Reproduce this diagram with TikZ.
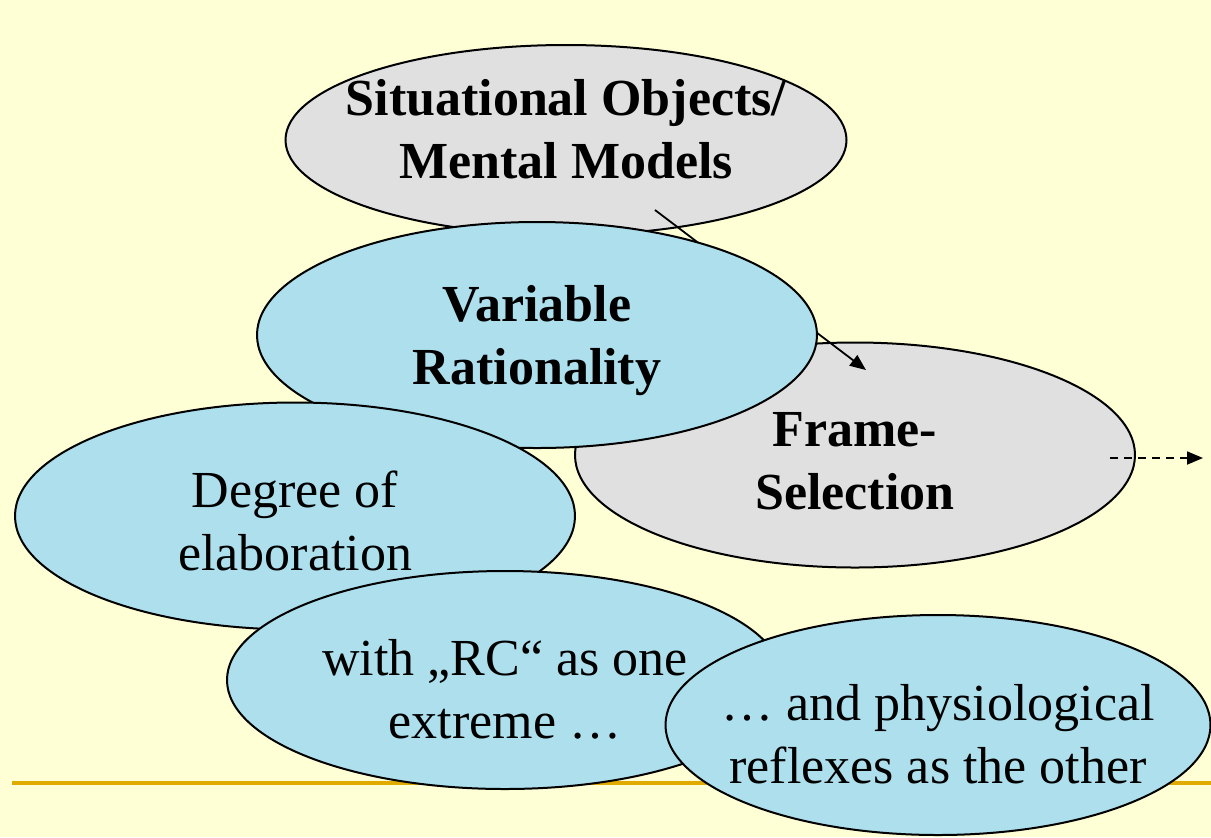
\documentclass[tikz,border=0pt]{standalone}
\usepackage{fontspec}
\setmainfont{Liberation Serif}
\usetikzlibrary{shapes.geometric,arrows.meta}
\definecolor{slidebg}{RGB}{255,255,214}
\definecolor{cloudgrey}{RGB}{224,224,224}
\definecolor{cloudblue}{RGB}{173,223,237}
\definecolor{ruleorange}{RGB}{224,170,0}
\begin{document}
\begin{tikzpicture}[x=0.5pt,y=-0.5pt,
    bubble/.style={ellipse, draw, line width=1pt, inner sep=0pt},
    grey/.style={bubble, fill=cloudgrey},
    blue/.style={bubble, fill=cloudblue},
    words/.style={align=center, font=\fontsize{26}{31.5}\selectfont},
    bold/.style={words, font=\fontsize{26}{31.5}\selectfont\bfseries},
    link/.style={line width=0.9pt, -{Triangle[length=8pt,width=6.5pt]}}]
    \fill[slidebg] (0,0) rectangle (1211,837);
    \useasboundingbox (0,0) rectangle (1211,837);
    \draw[ruleorange, line width=2pt] (12,783) -- (1211,783);
    \node [grey, minimum width=280.5pt, minimum height=95pt] (som) at (566,140) {};
    \node [bold, yshift=5.5pt] at (som) {Situational Objects/\\Mental Models};
    \node [grey, minimum width=280pt, minimum height=112.5pt] (frame) at (855,455) {};
    \node [bold, yshift=-3pt] at (frame) {Frame-\\Selection};
    \coordinate (from) at (655,210);
    \coordinate (to) at (866,370);
    \draw[link] (from) -- (to);
    \node [blue, minimum width=280pt, minimum height=113pt] (vr) at (537,335) {};
    \node [bold, yshift=-3pt] at (vr) {Variable\\Rationality};
    \node [blue, minimum width=280pt, minimum height=113.5pt] (degree) at (295,516) {};
    \node [words, yshift=-2.5pt] at (degree) {Degree of\\elaboration};
    \node [blue, minimum width=278pt, minimum height=109pt] (rc) at (505,680) {};
    \node [words, yshift=-4.5pt] at (rc) {with „RC“ as one\\extreme …};
    \node [blue, minimum width=272.5pt, minimum height=110pt] (reflex) at (938,725) {};
    \node [words, yshift=-4.5pt] at (reflex) {… and physiological\\reflexes as the other};
    % leads on to the next step
    \coordinate (out) at (1203,458);
    \draw[link, dash pattern=on 4pt off 3pt] (1110,458) -- (out);
\end{tikzpicture}
\end{document}
